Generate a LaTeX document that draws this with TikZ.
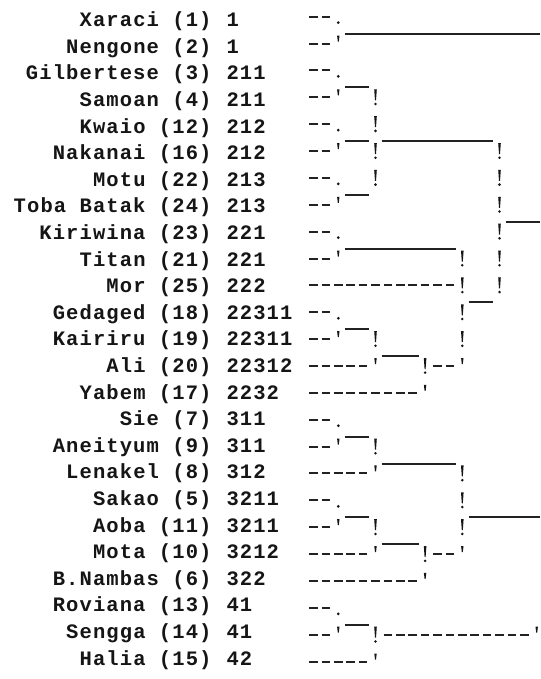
\documentclass[tikz,border=0pt]{standalone}
\usepackage{fontspec}
\newfontfamily\lblfont[LetterSpace=5.4]{Liberation Mono}
\definecolor{ink}{HTML}{151515}
\definecolor{lineink}{HTML}{222222}
\newcommand\tDashes[3]{\foreach \q in {#1,...,#2}{\draw[tk] ({tx(\q)-4.3},{ty(#3)+8.5}) -- ({tx(\q)+4.3},{ty(#3)+8.5});}}
\newcommand\tDot[2]{\fill[ink] ({tx(#1)},{ty(#2)+2.5}) circle (1.5);}
\newcommand\tApo[2]{\fill[ink] ({tx(#1)-1.2},{ty(#2)+16.5}) -- ({tx(#1)+1.2},{ty(#2)+16.5}) -- ({tx(#1)+0.5},{ty(#2)+10.5}) -- ({tx(#1)-0.5},{ty(#2)+10.5}) -- cycle;}
\newcommand\tBang[2]{\fill[ink] ({tx(#1)-1.3},{ty(#2)+16.5}) -- ({tx(#1)+1.3},{ty(#2)+16.5}) -- ({tx(#1)+0.5},{ty(#2)+5.5}) -- ({tx(#1)-0.5},{ty(#2)+5.5}) -- cycle; \fill[ink] ({tx(#1)},{ty(#2)+1.8}) circle (1.4);}
\newcommand\tUnder[3]{\draw[ul] ({tx(#1)-6.2},{ty(#3)-8.5}) -- ({min(tx(#2)+6.2,540)},{ty(#3)-8.5});}
\begin{document}
\begin{tikzpicture}[x=1pt,y=1pt,
  declare function={tx(\c)=313.5+12.4*\c; ty(\r)=679-(25.2+26.87*(\r-1)); ly(\r)=679-(26.7+26.6*(\r-1));},
  tk/.style={line width=2.0pt, draw=lineink},
  ul/.style={line width=1.9pt, draw=lineink},
  lbl/.style={inner sep=0pt, text=ink, font=\lblfont\bfseries\fontsize{20.5}{24}\selectfont}]
\useasboundingbox (0,0) rectangle (540,679);
\fill[white] (0,0) rectangle (540,679);
% labels
\foreach \k/\nm/\cd in {1/{Xaraci (1)}/1, 2/{Nengone (2)}/1, 3/{Gilbertese (3)}/211, 4/{Samoan (4)}/211,
  5/{Kwaio (12)}/212, 6/{Nakanai (16)}/212, 7/{Motu (22)}/213, 8/{Toba Batak (24)}/213,
  9/{Kiriwina (23)}/221, 10/{Titan (21)}/221, 11/{Mor (25)}/222, 12/{Gedaged (18)}/22311,
  13/{Kairiru (19)}/22311, 14/{Ali (20)}/22312, 15/{Yabem (17)}/2232, 16/{Sie (7)}/311,
  17/{Aneityum (9)}/311, 18/{Lenakel (8)}/312, 19/{Sakao (5)}/3211, 20/{Aoba (11)}/3211,
  21/{Mota (10)}/3212, 22/{B.Nambas (6)}/322, 23/{Roviana (13)}/41, 24/{Sengga (14)}/41,
  25/{Halia (15)}/42}{
  \node[lbl, anchor=base east] (n\k) at (211.7,{ly(\k)}) {\nm};
  \node[lbl, anchor=base west] (c\k) at (226.3,{ly(\k)}) {\cd};
}
% tree
\tDashes{0}{1}{1} \tDot{2}{1} \tUnder{3}{18}{1}
\tDashes{0}{1}{2} \tApo{2}{2}
\tDashes{0}{1}{3} \tDot{2}{3} \tUnder{3}{4}{3}
\tDashes{0}{1}{4} \tApo{2}{4} \tBang{5}{4}
\tDashes{0}{1}{5} \tDot{2}{5} \tUnder{3}{4}{5} \tBang{5}{5} \tUnder{6}{14}{5}
\tDashes{0}{1}{6} \tApo{2}{6} \tBang{5}{6} \tBang{15}{6}
\tDashes{0}{1}{7} \tDot{2}{7} \tUnder{3}{4}{7} \tBang{5}{7} \tBang{15}{7}
\tDashes{0}{1}{8} \tApo{2}{8} \tBang{15}{8} \tUnder{16}{18}{8}
\tDashes{0}{1}{9} \tDot{2}{9} \tUnder{3}{11}{9} \tBang{15}{9}
\tDashes{0}{1}{10} \tApo{2}{10} \tBang{12}{10} \tBang{15}{10}
\tDashes{0}{11}{11} \tBang{12}{11} \tUnder{13}{14}{11} \tBang{15}{11}
\tDashes{0}{1}{12} \tDot{2}{12} \tUnder{3}{4}{12} \tBang{12}{12}
\tDashes{0}{1}{13} \tApo{2}{13} \tBang{5}{13} \tUnder{6}{8}{13} \tBang{12}{13}
\tDashes{0}{4}{14} \tApo{5}{14} \tBang{9}{14} \tDashes{10}{11}{14} \tApo{12}{14}
\tDashes{0}{8}{15} \tApo{9}{15}
\tDashes{0}{1}{16} \tDot{2}{16} \tUnder{3}{4}{16}
\tDashes{0}{1}{17} \tApo{2}{17} \tBang{5}{17} \tUnder{6}{11}{17}
\tDashes{0}{4}{18} \tApo{5}{18} \tBang{12}{18}
\tDashes{0}{1}{19} \tDot{2}{19} \tUnder{3}{4}{19} \tBang{12}{19} \tUnder{13}{18}{19}
\tDashes{0}{1}{20} \tApo{2}{20} \tBang{5}{20} \tUnder{6}{8}{20} \tBang{12}{20}
\tDashes{0}{4}{21} \tApo{5}{21} \tBang{9}{21} \tDashes{10}{11}{21} \tApo{12}{21}
\tDashes{0}{8}{22} \tApo{9}{22}
\tDashes{0}{1}{23} \tDot{2}{23} \tUnder{3}{4}{23}
\tDashes{0}{1}{24} \tApo{2}{24} \tBang{5}{24} \tDashes{6}{17}{24} \tApo{18}{24}
\tDashes{0}{4}{25} \tApo{5}{25}
\end{tikzpicture}
\end{document}
